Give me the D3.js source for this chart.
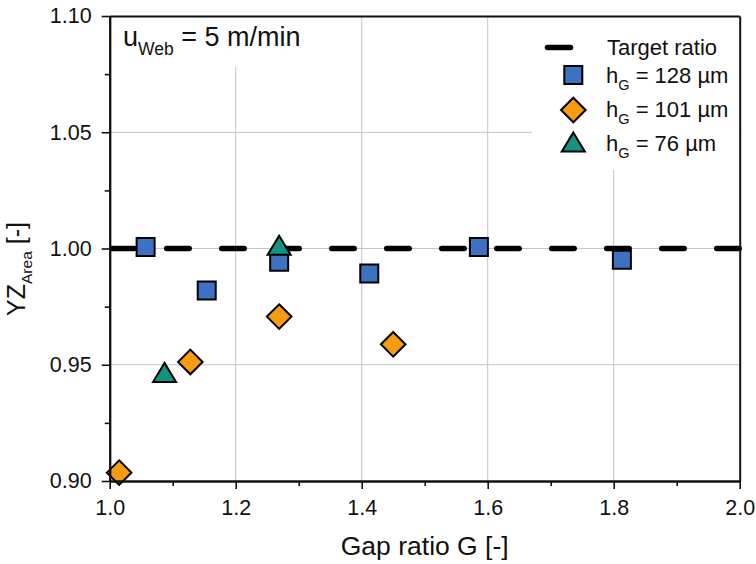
<!DOCTYPE html>
<html>
<head>
<meta charset="utf-8">
<script src="https://cdn.jsdelivr.net/npm/d3@7"></script>
<style>
  html, body { margin: 0; padding: 0; background: #fff; }
  svg { display: block; font-family: "Liberation Sans", Arial, sans-serif; }
</style>
</head>
<body>
<svg id="chart" width="756" height="564"></svg>
<script>
// Gap ratio G and area ratio YZ_Area for three gap heights
const gap128 = [1.057, 1.154, 1.269, 1.412, 1.586, 1.813];
const yz128  = [1.0006, 0.9819, 0.9943, 0.9893, 1.0006, 0.9952];
const gap101 = [1.015, 1.128, 1.269, 1.450];
const yz101  = [0.9036, 0.9512, 0.9707, 0.9588];
const gap76  = [1.087, 1.269];
const yz76   = [0.9467, 1.0014];
const targetRatio = 1.0;

const xTicks = [1.0, 1.2, 1.4, 1.6, 1.8, 2.0];
const xMinor = [1.1, 1.3, 1.5, 1.7, 1.9];
const yTicks = [0.90, 0.95, 1.00, 1.05, 1.10];
const yMinor = [0.925, 0.975, 1.025, 1.075];

const seriesNames = ["128", "101", "76"];

const svg = d3.select("#chart");
const plot = { left: 109.7, right: 739.7, top: 16, bottom: 481 };

const x = d3.scaleLinear().domain([1.0, 2.0]).range([plot.left, plot.right]);
const y = d3.scaleLinear().domain([0.90, 1.10]).range([plot.bottom, plot.top]);

const colors = { sq: "#3d72c2", dia: "#f79c10", tri: "#149380" };

// custom marker shapes
const squareSym = { draw(ctx, s) { const h = s / 2; ctx.rect(-h, -h, s, s); } };
const diamondSym = { draw(ctx, s) { ctx.moveTo(0, -s); ctx.lineTo(s, 0); ctx.lineTo(0, s); ctx.lineTo(-s, 0); ctx.closePath(); } };
const triangleSym = { draw(ctx, s) { const w = s, h = s * 0.83; ctx.moveTo(0, -h / 2); ctx.lineTo(w / 2, h / 2); ctx.lineTo(-w / 2, h / 2); ctx.closePath(); } };
const sqPath = d3.symbol().type(squareSym).size(18)();
const diaPath = d3.symbol().type(diamondSym).size(12.3)();
const triPath = d3.symbol().type(triangleSym).size(23)();

// grid
const grid = svg.append("g").attr("stroke", "#c4c4c4").attr("stroke-width", 1);
grid.selectAll("line.v").data(xTicks.slice(1, -1)).join("line")
  .attr("x1", d => x(d)).attr("x2", d => x(d))
  .attr("y1", plot.top).attr("y2", plot.bottom);
grid.selectAll("line.h").data(yTicks.slice(1, -1)).join("line")
  .attr("x1", plot.left).attr("x2", plot.right)
  .attr("y1", d => y(d)).attr("y2", d => y(d));

// white boxes behind annotation and legend
svg.append("rect").attr("x", plot.left + 1).attr("y", plot.top + 1)
  .attr("width", 230).attr("height", 50).attr("fill", "#fff");
svg.append("rect").attr("x", 532).attr("y", plot.top + 1)
  .attr("width", plot.right - 533).attr("height", 153).attr("fill", "#fff");

// target ratio dashed line
svg.append("line")
  .attr("x1", x(1.0)).attr("x2", x(2.0))
  .attr("y1", y(targetRatio)).attr("y2", y(targetRatio))
  .attr("stroke", "#000").attr("stroke-width", 5.5)
  .attr("stroke-linecap", "round")
  .attr("stroke-dasharray", "22.5 32.5")
  .attr("stroke-dashoffset", -2);

// markers
const marks = svg.append("g").attr("stroke", "#000").attr("stroke-width", 2).attr("stroke-linejoin", "miter");
marks.selectAll("path.sq").data(d3.zip(gap128, yz128)).join("path")
  .attr("d", sqPath).attr("fill", colors.sq)
  .attr("transform", d => `translate(${x(d[0])},${y(d[1])})`);
marks.selectAll("path.dia").data(d3.zip(gap101, yz101)).join("path")
  .attr("d", diaPath).attr("fill", colors.dia)
  .attr("transform", d => `translate(${x(d[0])},${y(d[1])})`);
marks.selectAll("path.tri").data(d3.zip(gap76, yz76)).join("path")
  .attr("d", triPath).attr("fill", colors.tri)
  .attr("transform", d => `translate(${x(d[0])},${y(d[1])})`);

// axes
const tickFont = "21.5px";
function styleAxis(g) {
  g.selectAll("path.domain").attr("stroke", "#111").attr("stroke-width", 2);
  g.selectAll(".tick line").attr("stroke", "#111").attr("stroke-width", 1.6);
  g.selectAll("text").attr("fill", "#111").style("font-size", tickFont)
    .style("font-family", '"Liberation Sans", Arial, sans-serif');
}
svg.append("g").attr("transform", `translate(0,${plot.bottom})`)
  .call(d3.axisBottom(x).tickValues(xMinor).tickSize(5).tickFormat("").tickSizeOuter(0)).call(styleAxis);
svg.append("g").attr("transform", `translate(${plot.left},0)`)
  .call(d3.axisLeft(y).tickValues(yMinor).tickSize(5).tickFormat("").tickSizeOuter(0)).call(styleAxis);
svg.append("g").attr("transform", `translate(0,${plot.bottom})`)
  .call(d3.axisBottom(x).tickValues(xTicks).tickSize(8).tickPadding(10.5)
    .tickFormat(d3.format(".1f")).tickSizeOuter(0)).call(styleAxis);
svg.append("g").attr("transform", `translate(${plot.left},0)`)
  .call(d3.axisLeft(y).tickValues(yTicks).tickSize(8).tickPadding(10)
    .tickFormat(d3.format(".2f")).tickSizeOuter(0)).call(styleAxis);
svg.append("g").attr("transform", `translate(0,${plot.top})`)
  .call(d3.axisTop(x).tickValues([]).tickSizeOuter(0)).call(styleAxis);
svg.append("g").attr("transform", `translate(${plot.right},0)`)
  .call(d3.axisRight(y).tickValues([]).tickSizeOuter(0)).call(styleAxis);

// axis titles
svg.append("text").attr("x", (plot.left + plot.right) / 2).attr("y", 555)
  .attr("text-anchor", "middle").style("font-size", "26.5px").attr("fill", "#111")
  .text("Gap ratio G [-]");

const yt = svg.append("text").attr("transform", "translate(25,269) rotate(-90)")
  .attr("text-anchor", "middle").style("font-size", "25px").attr("fill", "#111");
yt.append("tspan").text("YZ");
yt.append("tspan").attr("dy", 7).style("font-size", "15.5px").text("Area");
yt.append("tspan").attr("dy", -7).text(" [-]");

// speed annotation
const ann = svg.append("text").attr("x", 123).attr("y", 46)
  .style("font-size", "27px").attr("fill", "#111");
ann.append("tspan").text("u");
ann.append("tspan").attr("dy", 9).style("font-size", "17.5px").text("Web");
ann.append("tspan").attr("dy", -9).text(" = 5 m/min");

// legend
const legend = svg.append("g");
legend.append("line").attr("x1", 547.5).attr("x2", 570.5).attr("y1", 47.5).attr("y2", 47.5)
  .attr("stroke", "#000").attr("stroke-width", 5.5).attr("stroke-linecap", "round");
legend.append("text").attr("x", 607).attr("y", 55).style("font-size", "22px").attr("fill", "#111")
  .text("Target ratio");
const legendRows = [
  { path: sqPath, fill: colors.sq, cy: 75, base: 83.3, name: seriesNames[0] },
  { path: diaPath, fill: colors.dia, cy: 110, base: 116.7, name: seriesNames[1] },
  { path: triPath, fill: colors.tri, cy: 142, base: 150.5, name: seriesNames[2] }
];
legendRows.forEach(r => {
  legend.append("path").attr("d", r.path).attr("fill", r.fill)
    .attr("stroke", "#000").attr("stroke-width", 2)
    .attr("transform", `translate(573.3,${r.cy})`);
  const t = legend.append("text").attr("x", 606).attr("y", r.base)
    .style("font-size", "22px").attr("fill", "#111");
  t.append("tspan").text("h");
  t.append("tspan").attr("dy", 7).style("font-size", "14.5px").text("G");
  t.append("tspan").attr("dy", -7).text(` = ${r.name} µm`);
});
</script>
</body>
</html>
